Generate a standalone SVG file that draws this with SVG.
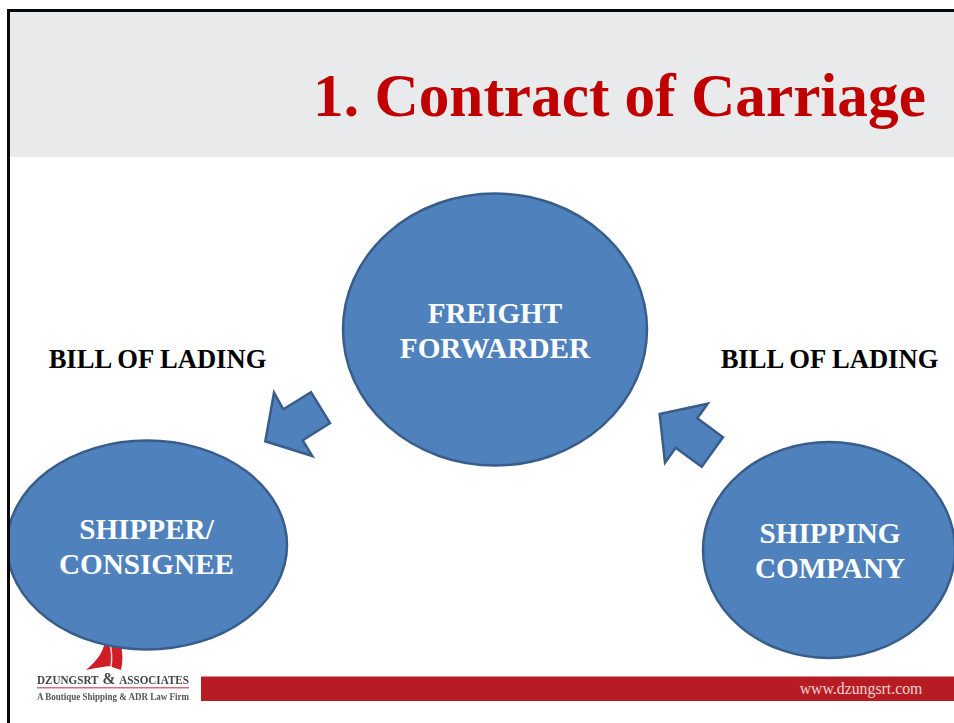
<svg xmlns="http://www.w3.org/2000/svg" width="954" height="723" viewBox="0 0 954 723">
<style>
.shape{fill:#4f81bd;stroke:#385d8a;stroke-width:2.500}
.nt{font-family:"Liberation Serif","Times New Roman",serif;font-weight:bold;font-size:29.200px;fill:#fff;text-anchor:middle}
.lb{font-family:"Liberation Serif","Times New Roman",serif;font-weight:bold;font-size:26.600px;fill:#000;text-anchor:middle}
.ft{font-family:"Liberation Serif","Times New Roman",serif}
</style>
<defs>
<filter id="soft" x="-5%" y="-5%" width="110%" height="110%"><feGaussianBlur stdDeviation="0.400"/></filter>
<clipPath id="inside"><rect x="8" y="0" width="946" height="723"/></clipPath>
</defs>
<rect width="954" height="723" fill="#fff"/>
<rect x="10" y="11" width="944" height="146" fill="#e9eaec"/>
<text id="title" x="619.500" y="115.500" font-family="'Liberation Serif','Times New Roman',serif" font-weight="bold" font-size="61.300px" fill="#c00000" text-anchor="middle">1. Contract of Carriage</text>
<g id="logo" filter="url(#soft)">
<path d="M86 670C97 661 103 652 105 642L120 642C123 652 123 661 121 670C115 668 112 667 110 666C102 667 94 668 86 670Z" fill="#cf1f26"/>
<path d="M110 644C112 652 112 660 111 667" fill="none" stroke="#f3d8d8" stroke-width="1.500"/>
<text class="ft" x="113" y="684" font-size="11.500px" font-weight="bold" fill="#444" text-anchor="middle" textLength="152" lengthAdjust="spacingAndGlyphs">DZUNGSRT<tspan font-size="16px"> &amp; </tspan>ASSOCIATES</text>
<rect x="37" y="687" width="152" height="1.500" fill="#d0707a"/>
<text class="ft" x="113" y="700" font-size="10px" font-weight="bold" fill="#555" text-anchor="middle" textLength="152" lengthAdjust="spacingAndGlyphs">A Boutique Shipping &amp; ADR Law Firm</text>
</g>
<g id="footer-bar">
<rect x="201" y="676.500" width="753" height="24.500" fill="#b71c24"/>
<text class="ft" x="861" y="694" font-size="15.800px" fill="#efd2d2" text-anchor="middle">www.dzungsrt.com</text>
</g>
<g id="connectors">
<polygon id="arrow-left" class="shape" points="274,392.700 283.300,409.300 311,392.300 330,423 302.700,440.300 312.300,456 265.300,441.300"/>
<polygon id="arrow-right" class="shape" points="659.700,414 707.700,403.700 697.300,418.300 723,437.300 701.700,466.700 675.700,447.700 665,462.700"/>
</g>
<g id="freight-forwarder">
<ellipse class="shape" cx="495" cy="329.500" rx="152" ry="136"/>
<text class="nt" x="495" y="323">FREIGHT</text>
<text class="nt" x="495" y="358">FORWARDER</text>
</g>
<g id="shipper-consignee">
<ellipse class="shape" cx="147" cy="545" rx="140" ry="104.500" clip-path="url(#inside)"/>
<text class="nt" x="146.500" y="539">SHIPPER/</text>
<text class="nt" x="146.500" y="574">CONSIGNEE</text>
</g>
<g id="shipping-company">
<ellipse class="shape" cx="829" cy="550" rx="126" ry="108"/>
<text class="nt" x="830" y="543">SHIPPING</text>
<text class="nt" x="830" y="578">COMPANY</text>
</g>
<text id="label-left" class="lb" x="157.500" y="368">BILL OF LADING</text>
<text id="label-right" class="lb" x="829.500" y="368">BILL OF LADING</text>
<path id="frame" d="M8.500 723V10.500H954" fill="none" stroke="#0a0a0a" stroke-width="3"/>
</svg>
